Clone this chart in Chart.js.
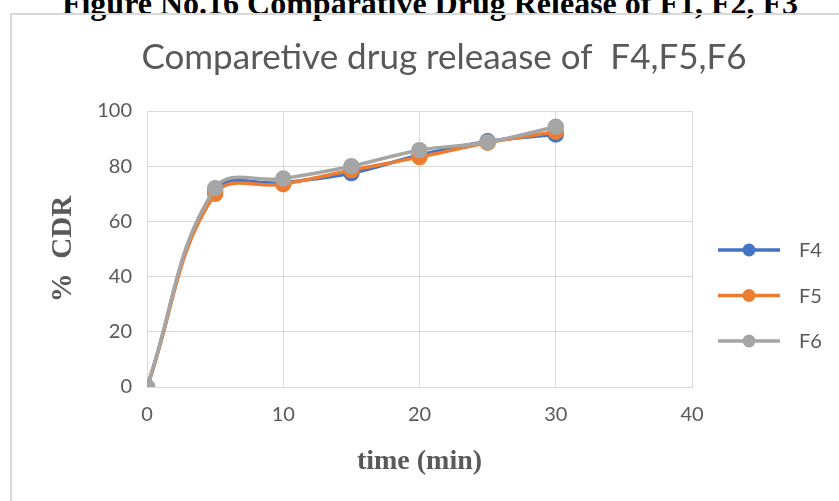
<!DOCTYPE html>
<html>
<head>
<meta charset="utf-8">
<script src="https://cdn.jsdelivr.net/npm/chart.js@4/dist/chart.umd.min.js"></script>
<style>
  html, body { margin: 0; padding: 0; background: #fff; }
  #wrap { position: relative; width: 839px; height: 501px; overflow: hidden; }
  #caption {
    position: absolute; left: 0; width: 860px; top: -14px;
    text-align: center; font: bold 32px "Liberation Serif", serif; color: #000;
    white-space: nowrap; line-height: 34px;
  }
  #frame {
    position: absolute; left: 10px; top: 13px; width: 900px; height: 600px;
    border-left: 2px solid #d9d9d9; border-top: 2px solid #d9d9d9;
  }
  canvas { position: absolute; left: 0; top: 0; }
</style>
</head>
<body>
<div id="wrap">
  <div id="caption">Figure No.16 Comparative Drug Release of F1, F2, F3</div>
  <div id="frame"></div>
  <canvas id="releaseChart" width="839" height="501"></canvas>
</div>
<script>
// sampling times (min) and % cumulative drug release
const times = [0, 5, 10, 15, 20, 25, 30];
const f4 = [0, 71, 74, 77.5, 84, 89, 91.5];
const f5 = [0, 70, 73.5, 78.5, 83.3, 88.5, 92.5];
const f6 = [0, 72, 75.5, 80, 85.8, 88.7, 94.3];
const seriesNames = ['F4', 'F5', 'F6'];
const seriesColors = ['#4472C4', '#ED7D31', '#A5A5A5'];

const chartTitle = 'Comparetive drug releaase of  F4,F5,F6';
const textColor = '#595959';
const labelFont = 'Lato';

function toPoints(values) {
    return times.map((t, i) => ({ x: t, y: values[i] }));
}

// titre + légende dessinés à la main (style Excel)
const excelDecor = {
    id: 'excelDecor',
    afterDraw(chart) {
        const ctx = chart.ctx;
        ctx.save();
        ctx.fillStyle = textColor;
        ctx.font = '35px ' + labelFont;
        ctx.textAlign = 'center';
        ctx.textBaseline = 'middle';
        ctx.fillText(chartTitle, 444, 58);

        chart.data.datasets.forEach((ds, i) => {
            const y = 250 + i * 45.5;
            ctx.strokeStyle = ds.borderColor;
            ctx.lineWidth = 3.5;
            ctx.beginPath();
            ctx.moveTo(718, y);
            ctx.lineTo(780, y);
            ctx.stroke();
            ctx.fillStyle = ds.backgroundColor;
            ctx.beginPath();
            ctx.arc(749, y, 6.5, 0, Math.PI * 2);
            ctx.fill();
            ctx.fillStyle = textColor;
            ctx.font = '20px ' + labelFont;
            ctx.textAlign = 'left';
            ctx.fillText(ds.label, 799, y + 1);
        });
        ctx.restore();
    }
};

const datasets = [f4, f5, f6].map((values, i) => ({
    label: seriesNames[i],
    data: toPoints(values),
    borderColor: seriesColors[i],
    backgroundColor: seriesColors[i],
    pointBackgroundColor: seriesColors[i],
    pointBorderColor: seriesColors[i],
    borderWidth: 3.5,
    pointRadius: 6.5,
    tension: 0.4,
    order: 2 - i
}));

const ctx = document.getElementById('releaseChart').getContext('2d');
const releaseChart = new Chart(ctx, {
    type: 'line',
    data: { datasets: datasets },
    options: {
        responsive: false,
        animation: false,
        layout: { padding: { left: 0, top: 111, right: 147, bottom: 0 } },
        plugins: {
            legend: { display: false },
            title: { display: false },
            tooltip: { enabled: false }
        },
        scales: {
            x: {
                type: 'linear',
                min: 0, max: 40,
                ticks: { stepSize: 10, padding: 16, color: textColor, font: { family: labelFont, size: 20 } },
                grid: { color: '#d9d9d9', lineWidth: 1, drawTicks: false },
                border: { color: '#d9d9d9' },
                title: {
                    display: true, text: 'time (min)', color: textColor,
                    font: { family: 'Liberation Serif', size: 28, weight: 'bold' },
                    padding: { top: 0, bottom: 22 }
                },
                afterFit(scale) { scale.height = 114; }
            },
            y: {
                min: 0, max: 100,
                ticks: { stepSize: 20, padding: 15, color: textColor, font: { family: labelFont, size: 20 } },
                grid: { color: '#d9d9d9', lineWidth: 1, drawTicks: false },
                border: { color: '#d9d9d9' },
                title: {
                    display: true, text: '%  CDR', color: textColor,
                    font: { family: 'Liberation Serif', size: 29, weight: 'bold' },
                    padding: { top: 46, bottom: 0 }
                },
                afterFit(scale) { scale.width = 147; }
            }
        }
    },
    plugins: [excelDecor]
});
</script>
</body>
</html>
